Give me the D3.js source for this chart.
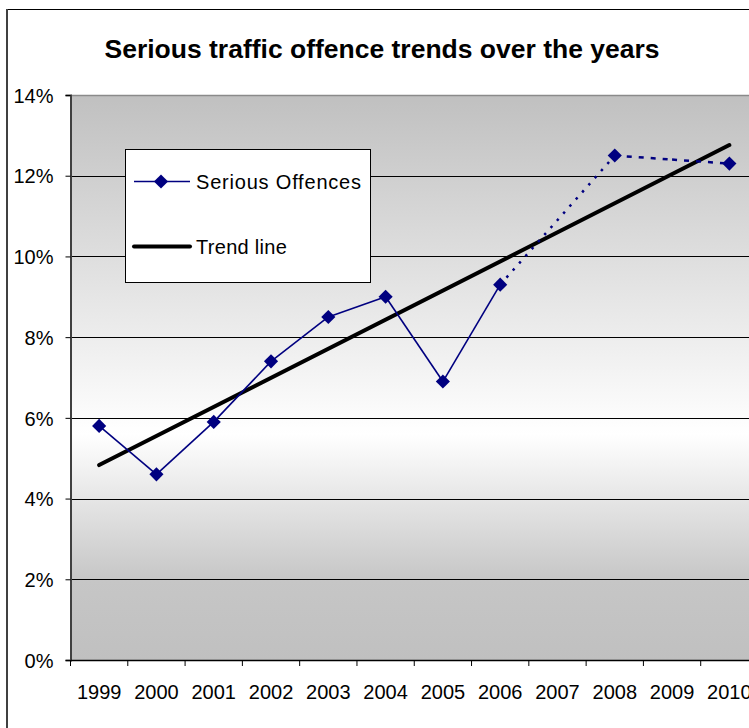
<!DOCTYPE html>
<html>
<head>
<meta charset="utf-8">
<script src="https://cdn.jsdelivr.net/npm/d3@7"></script>
<style>
  html, body { margin: 0; padding: 0; background: #fff; }
  svg { display: block; font-family: Arial, "Liberation Sans", sans-serif; }
</style>
</head>
<body>
<svg id="chart" width="749" height="728"></svg>
<script>
// chart data
const years = ["1999", "2000", "2001", "2002", "2003", "2004", "2005", "2006", "2007", "2008", "2009", "2010"];
const offences = [5.8, 4.6, 5.9, 7.4, 8.5, 9.0, 6.9, 9.3, null, 12.5, 12.4, 12.3];
const noMarkerYears = ["2009"];
const dashedFromYear = "2008";
const trendYears = ["1999", "2010"];
const trendValues = [4.83, 12.76];
const yTicks = [0, 2, 4, 6, 8, 10, 12, 14];

const svg = d3.select("#chart");

const plotLeft = 70.5, plotRight = 758, plotTop = 95, plotBottom = 660;

const x = d3.scaleBand().domain(years).range([plotLeft, plotRight]).padding(0);
const y = d3.scaleLinear().domain([0, 14]).range([plotBottom, plotTop]);
const cx = d => x(d) + x.bandwidth() / 2;

// outer chart frame
svg.append("line").attr("x1", 6).attr("x2", 749).attr("y1", 9.5).attr("y2", 9.5)
  .style("stroke", "#000").style("stroke-width", 1);
svg.append("line").attr("x1", 7).attr("x2", 7).attr("y1", 9).attr("y2", 728)
  .style("stroke", "#404040").style("stroke-width", 2);

// title
svg.append("text")
  .attr("x", 382).attr("y", 58)
  .attr("text-anchor", "middle")
  .attr("textLength", 555)
  .attr("lengthAdjust", "spacingAndGlyphs")
  .style("font-weight", "bold")
  .style("font-size", "25px")
  .text("Serious traffic offence trends over the years");

// plot background gradient
const defs = svg.append("defs");
const grad = defs.append("linearGradient").attr("id", "bg")
  .attr("x1", 0).attr("y1", 0).attr("x2", 0).attr("y2", 1);
[[0, "#c0c0c0"], [0.6, "#ffffff"], [0.86, "#c6c6c6"], [1, "#c0c0c0"]].forEach(s => {
  grad.append("stop").attr("offset", s[0]).attr("stop-color", s[1]);
});

svg.append("rect")
  .attr("x", plotLeft).attr("y", plotTop)
  .attr("width", plotRight - plotLeft).attr("height", plotBottom - plotTop)
  .style("fill", "url(#bg)");

// gridlines
svg.append("g").selectAll("line")
  .data(yTicks.filter(t => t > 0 && t < 14))
  .join("line")
  .attr("x1", plotLeft).attr("x2", plotRight)
  .attr("y1", d => Math.round(y(d)) + 0.5).attr("y2", d => Math.round(y(d)) + 0.5)
  .style("stroke", "#000").style("stroke-width", 1);

svg.append("line")
  .attr("x1", plotLeft).attr("x2", plotRight)
  .attr("y1", plotTop + 0.5).attr("y2", plotTop + 0.5)
  .style("stroke", "#8a8a8a").style("stroke-width", 1.5);

// y axis
const yAxis = svg.append("g")
  .attr("transform", `translate(${plotLeft},0)`)
  .call(d3.axisLeft(y).tickValues(yTicks).tickSize(5).tickPadding(12).tickFormat(d => d + "%"));
yAxis.select(".domain").style("stroke", "#404040").style("stroke-width", 2);
yAxis.selectAll(".tick line").style("stroke", "#000");
yAxis.selectAll(".tick text")
  .style("font-size", "20px").style("fill", "#000")
  .attr("dy", "0.36em");

// x axis
const xAxis = svg.append("g")
  .attr("transform", `translate(0,${plotBottom})`)
  .call(d3.axisBottom(x).tickSize(0).tickPadding(0));
xAxis.select(".domain").style("stroke", "#000").style("stroke-width", 1.5);
xAxis.selectAll(".tick text")
  .style("font-size", "20px").style("fill", "#000")
  .attr("y", 39).attr("dy", 0);
// ticks between categories
svg.append("g").selectAll("line")
  .data(years)
  .join("line")
  .attr("x1", d => x(d)).attr("x2", d => x(d))
  .attr("y1", plotBottom).attr("y2", plotBottom + 6)
  .style("stroke", "#000").style("stroke-width", 1);

// trend line
const trendLine = d3.line().x((d, i) => cx(trendYears[i])).y(d => y(d));
svg.append("path")
  .datum(trendValues)
  .attr("d", trendLine)
  .style("fill", "none")
  .style("stroke", "#000")
  .style("stroke-width", 4)
  .style("stroke-linecap", "round");

// series segments
const pts = years.map((yr, i) => ({ year: yr, i, value: offences[i] })).filter(d => d.value != null);
const segLine = d3.line().x(d => cx(d.year)).y(d => y(d.value));
const navy = "#000080";
const dashedFrom = years.indexOf(dashedFromYear);

for (let k = 0; k < pts.length - 1; k++) {
  const a = pts[k], b = pts[k + 1];
  let dash = null;
  if (b.i - a.i > 1) dash = "2.5,7";
  else if (a.i >= dashedFrom) dash = "5,7";
  svg.append("path")
    .datum([a, b])
    .attr("d", segLine)
    .style("fill", "none")
    .style("stroke", navy)
    .style("stroke-width", dash ? 2.5 : 1.6)
    .style("stroke-dasharray", dash);
}

// markers
const diamond = d3.symbol().type(d3.symbolSquare).size(100);
svg.append("g").selectAll("path")
  .data(pts.filter(d => !noMarkerYears.includes(d.year)))
  .join("path")
  .attr("d", diamond)
  .attr("transform", d => `translate(${cx(d.year)},${y(d.value)}) rotate(45)`)
  .style("fill", navy);

// legend
const legend = svg.append("g");
legend.append("rect")
  .attr("x", 125.5).attr("y", 149.5).attr("width", 245).attr("height", 133)
  .style("fill", "#fff").style("stroke", "#000").style("stroke-width", 1);

legend.append("line").attr("x1", 134).attr("x2", 190).attr("y1", 181.5).attr("y2", 181.5)
  .style("stroke", navy).style("stroke-width", 1.6);
legend.append("path").attr("d", diamond)
  .attr("transform", "translate(161,181.5) rotate(45)").style("fill", navy);
legend.append("text").attr("x", 196).attr("y", 188.5)
  .style("font-size", "20px").style("letter-spacing", "0.8px")
  .text("Serious Offences");

legend.append("line").attr("x1", 134).attr("x2", 190).attr("y1", 246.5).attr("y2", 246.5)
  .style("stroke", "#000").style("stroke-width", 4).style("stroke-linecap", "round");
legend.append("text").attr("x", 196).attr("y", 253.5)
  .style("font-size", "20px").style("letter-spacing", "0.3px")
  .text("Trend line");
</script>
</body>
</html>
